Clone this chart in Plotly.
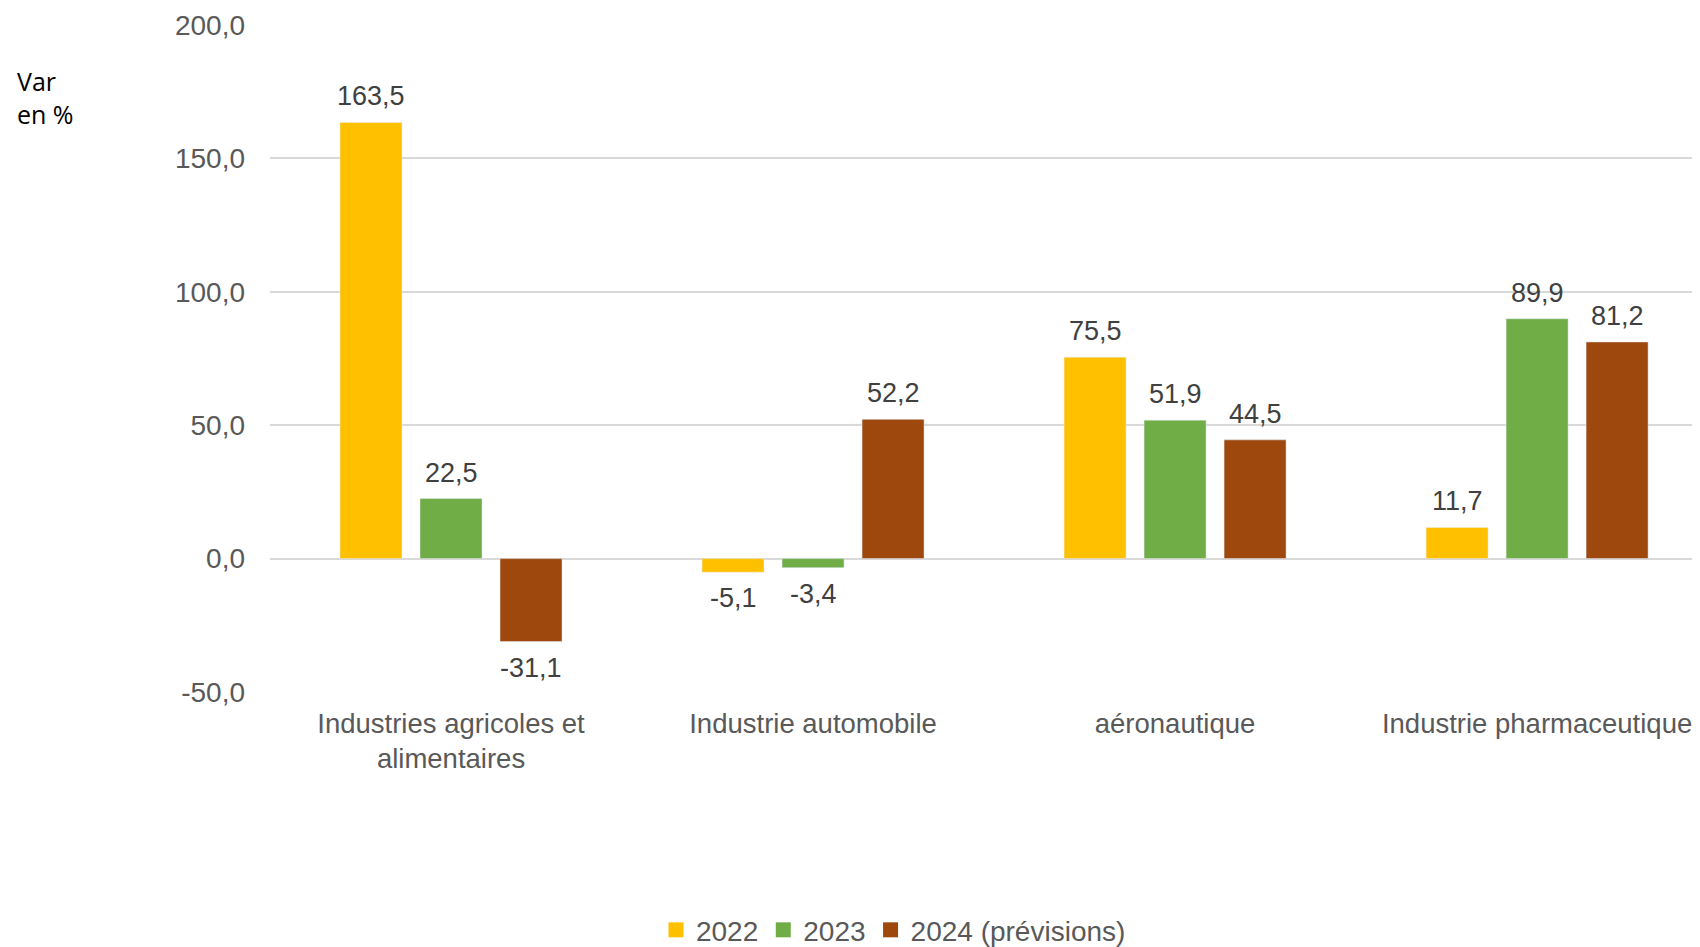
import plotly.graph_objects as go

categories = ["Industries agricoles et<br>alimentaires", "Industrie automobile",
              "aéronautique", "Industrie pharmaceutique"]
series_names = ["2022", "2023", "2024 (prévisions)"]
values_2022 = [163.5, -5.1, 75.5, 11.7]
values_2023 = [22.5, -3.4, 51.9, 89.9]
values_2024 = [-31.1, 52.2, 44.5, 81.2]
y_ticks = [-50, 0, 50, 100, 150, 200]

colors = ["#FFC000", "#70AD47", "#9E480E"]
grey = "#595959"
font_family = "Liberation Sans, Arial, sans-serif"


def fr(v):
    return f"{v:.1f}".replace(".", ",")


fig = go.Figure()
all_series = [values_2022, values_2023, values_2024]
for name, vals, col in zip(series_names, all_series, colors):
    fig.add_trace(go.Bar(x=categories, y=vals, name=name, marker_color=col,
                         showlegend=False))
    # entrée de légende avec un carré plus grand
    fig.add_trace(go.Scatter(x=[None], y=[None], mode="markers", name=name,
                             marker=dict(symbol="square", size=15, color=col)))

# étiquettes de données
for i, vals in enumerate(all_series):
    for cat, v in zip(categories, vals):
        fig.add_annotation(
            x=cat, y=v, xref="x", yref="y", text=fr(v), showarrow=False,
            xshift=(i - 1) * 80, yshift=9 if v >= 0 else -9,
            yanchor="bottom" if v >= 0 else "top",
            font=dict(size=27, color="#404040", family=font_family)
        )

fig.add_annotation(
    x=-0.1785, y=0.945, xref="paper", yref="paper", text="Var<br>en %",
    showarrow=False, xanchor="left", yanchor="top", align="left",
    font=dict(size=25, color="black", family="Open Sans, sans-serif")
)

fig.update_layout(
    width=1692, height=939,
    margin=dict(l=262, r=0, t=17, b=255, autoexpand=False),
    paper_bgcolor="white", plot_bgcolor="white",
    barmode="group", bargap=0.337, bargroupgap=0.225,
    font=dict(family=font_family, color=grey, size=28),
    legend=dict(orientation="h", x=0.436, xanchor="center", y=-0.357, yanchor="middle",
                font=dict(size=28, color=grey),
                traceorder="normal", tracegroupgap=0, itemwidth=30),
    xaxis=dict(range=[-0.5, 3.45], showgrid=False, ticks="", ticklabelstandoff=12,
               tickfont=dict(size=27.5, color=grey), showline=False),
    yaxis=dict(range=[-50, 200], tickvals=y_ticks, ticktext=[fr(v) for v in y_ticks],
               showgrid=True, gridcolor="#D9D9D9", gridwidth=1.5,
               zeroline=True, zerolinecolor="#D9D9D9", zerolinewidth=1.5,
               ticks="", ticklabelstandoff=24, tickfont=dict(size=28, color=grey)),
)

fig.write_html("out.html")
